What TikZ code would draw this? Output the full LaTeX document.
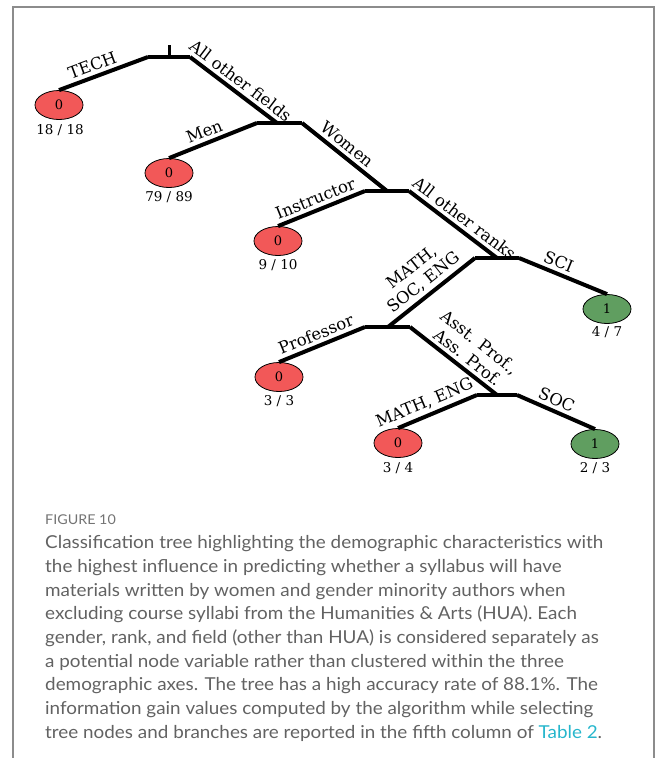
\documentclass[tikz,border=0pt]{standalone}
\usepackage{fontspec}
\setmainfont{DejaVu Serif}
\newfontfamily\capfont[FakeStretch=1.06]{Lato}
\usetikzlibrary{shapes.geometric}
\definecolor{leafred}{RGB}{242,88,88}
\definecolor{leafgreen}{RGB}{96,158,96}
\definecolor{captext}{RGB}{98,98,98}
\definecolor{capcaption}{RGB}{115,115,115}
\definecolor{framegray}{RGB}{140,140,140}
\definecolor{linkcyan}{RGB}{38,182,204}
\tikzset{
  branch/.style={line width=4pt, line join=bevel},
  leaf/.style={ellipse, draw=black, line width=0.8pt, minimum width=48pt, minimum height=29pt, inner sep=0pt, font=\fontsize{13}{13}\selectfont},
  redleaf/.style={leaf, fill=leafred},
  greenleaf/.style={leaf, fill=leafgreen},
  count/.style={font=\fontsize{13.5}{14}\selectfont, inner sep=0pt},
  lab/.style={sloped, above, inner sep=3.5pt, font=\fontsize{16.5}{19}\selectfont, align=center},
  capline/.style={anchor=base west, inner sep=0pt, text=captext, font=\capfont\fontsize{17.8}{20}\selectfont},
}
\begin{document}
\begin{tikzpicture}[x=1pt, y=-1pt]
\useasboundingbox (0,0) rectangle (656,758);
% panel frame, open at the bottom
\draw[framegray, line width=2pt] (13,758) -- (13,6.5) -- (654,6.5) -- (654,758);

% split bars
\coordinate (r1) at (148,57);  \coordinate (rm) at (169,57); \coordinate (r2) at (190,57);
\coordinate (rt) at (169,45);
\coordinate (m1) at (257,123); \coordinate (m2) at (277,123); \coordinate (m3) at (302,123);
\coordinate (i1) at (365,191); \coordinate (i2) at (387,191); \coordinate (i3) at (409,191);
\coordinate (s1) at (475,258); \coordinate (s2) at (497,258); \coordinate (s3) at (519,258);
\coordinate (p1) at (365,327); \coordinate (p2) at (388,327); \coordinate (p3) at (410,327);
\coordinate (e1) at (477,395); \coordinate (e2) at (497,395); \coordinate (e3) at (517,395);

% leaves
\node[redleaf]   (L1) at (59,105)  {0};
\node[redleaf]   (L2) at (169,173) {0};
\node[redleaf]   (L3) at (278,241) {0};
\node[greenleaf] (L4) at (607,309) {1};
\node[redleaf]   (L5) at (279,377) {0};
\node[redleaf]   (L6) at (398,443) {0};
\node[greenleaf] (L7) at (595,444) {1};

\node[count] (c1) at (60,130)  {18 / 18};
\node[count] (c2) at (169,197) {79 / 89};
\node[count] (c3) at (278,265) {9 / 10};
\node[count] (c4) at (607,332) {4 / 7};
\node[count] (c5) at (279,401) {3 / 3};
\node[count] (c6) at (398,468) {3 / 4};
\node[count] (c7) at (595,468) {2 / 3};

% bars
\draw[branch] (r1) -- (r2);
\draw[line width=3pt] (rt) -- (rm);
\draw[branch] (m1) -- (m3);
\draw[branch] (i1) -- (i3);
\draw[branch] (s1) -- (s3);
\draw[branch] (p1) -- (p3);
\draw[branch] (e1) -- (e3);

% branches with their labels
\draw[branch] (L1.north) -- node[lab, pos=0.42] {TECH} (r1);
\draw[branch] (r2) -- node[lab, pos=0.5] {All other fields} (m2);
\draw[branch] (L2.north) -- node[lab, pos=0.45] {Men} (m1);
\draw[branch] (m3) -- node[lab, pos=0.45] {Women} (i2);
\draw[branch] (L3.north) -- node[lab, pos=0.48] {Instructor} (i1);
\draw[branch] (i3) -- node[lab, pos=0.55] {All other ranks} (s2);
\draw[branch] (s3) -- node[lab, pos=0.4] {SCI} (L4.north);
\draw[branch] (p2) -- node[lab, pos=0.5] {MATH,\\SOC, ENG} (s1);
\draw[branch] (L5.north) -- node[lab, pos=0.48] {Professor} (p1);
\draw[branch] (p3) -- node[lab, pos=0.58] {Asst. Prof.,\\Ass. Prof.} (e2);
\draw[branch] (L6.north) -- node[lab, pos=0.4] {MATH, ENG} (e1);
\draw[branch] (e3) -- node[lab, pos=0.45] {SOC} (L7.north);

% caption
\node[anchor=base west, inner sep=0pt, text=capcaption, font=\capfont\fontsize{13.5}{14}\selectfont] (fig) at (45,524) {FIGURE 10};
\node[capline] (t1) at (45,548) {Classification tree highlighting the demographic characteristics with};
\node[capline] (t2) at (45,572) {the highest influence in predicting whether a syllabus will have};
\node[capline] (t3) at (45,596) {materials written by women and gender minority authors when};
\node[capline] (t4) at (45,619.5) {excluding course syllabi from the Humanities \& Arts (HUA). Each};
\node[capline] (t5) at (45,643) {gender, rank, and field (other than HUA) is considered separately as};
\node[capline] (t6) at (45,667) {a potential node variable rather than clustered within the three};
\node[capline] (t7) at (45,690.5) {demographic axes. The tree has a high accuracy rate of 88.1\%. The};
\node[capline] (t8) at (45,714.5) {information gain values computed by the algorithm while selecting};
\node[capline] (t9) at (45,738) {tree nodes and branches are reported in the fifth column of \textcolor{linkcyan}{Table 2}.};
\end{tikzpicture}
\end{document}
